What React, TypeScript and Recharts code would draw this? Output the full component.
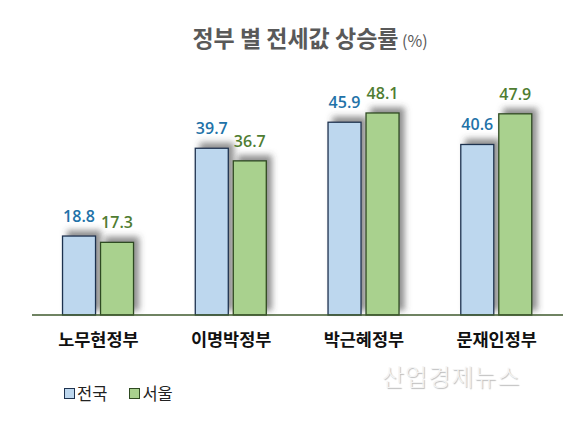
import React from 'react';
import { BarChart, Bar, XAxis, YAxis, LabelList } from 'recharts';

const categories = ['노무현정부', '이명박정부', '박근혜정부', '문재인정부'];
const nationwide = [18.8, 39.7, 45.9, 40.6];
const seoul = [17.3, 36.7, 48.1, 47.9];
const seriesNames = ['전국', '서울'];

const data = categories.map((c, i) => ({ name: c, nationwide: nationwide[i], seoul: seoul[i] }));

const KR = '"Noto Sans CJK KR", "Noto Sans", sans-serif';

const ShadowBar = (props: any) => {
  const { x, y, width, height, fill, stroke } = props;
  if (height <= 0) return null;
  return (
    <rect x={x} y={y} width={width} height={height} fill={fill} stroke={stroke} strokeWidth={1.3} filter="url(#barShadow)" />
  );
};

const Tick = (props: any) => {
  const { x, y, payload } = props;
  return (
    <text x={x} y={y + 23} textAnchor="middle" fontFamily={KR} fontWeight={700} fontSize={17.5} fill="#111">
      {payload.value}
    </text>
  );
};

export default function App() {
  return (
    <div style={{ position: 'absolute', left: 0, top: 0, width: 576, height: 429, background: '#fff', overflow: 'hidden' }}>
      <svg width={0} height={0} style={{ position: 'absolute' }}>
        <defs>
          <filter id="barShadow" x="-40%" y="-40%" width="180%" height="180%">
            <feDropShadow dx={5} dy={-5} stdDeviation={3.2} floodColor="#444" floodOpacity={0.6} />
          </filter>
        </defs>
      </svg>
      <div style={{ position: 'absolute', left: 0, top: 20, width: 620, textAlign: 'center', fontFamily: KR, color: '#595959' }}>
        <span style={{ fontSize: 23, fontWeight: 700 }}>정부 별 전세값 상승률</span>
        <span style={{ fontSize: 16, fontWeight: 400 }}> (%)</span>
      </div>
      <BarChart
        width={576}
        height={429}
        data={data}
        margin={{ top: 63, right: 13, bottom: 84, left: 32 }}
        barCategoryGap="23%"
        barGap={5}
      >
        <XAxis
          dataKey="name"
          tickLine={false}
          axisLine={{ stroke: '#3f5a2e', strokeWidth: 1.5 }}
          tick={<Tick />}
          height={30}
          interval={0}
        />
        <YAxis hide domain={[0, 60]} />
        <Bar dataKey="nationwide" name={seriesNames[0]} fill="#bdd7ee" stroke="#1f3350" shape={<ShadowBar />} isAnimationActive={false}>
          <LabelList dataKey="nationwide" position="top" offset={14} fill="#2272a8" fontSize={16} fontWeight={600} fontFamily='"Open Sans", sans-serif' />
        </Bar>
        <Bar dataKey="seoul" name={seriesNames[1]} fill="#a9d18e" stroke="#2f4a22" shape={<ShadowBar />} isAnimationActive={false}>
          <LabelList dataKey="seoul" position="top" offset={14} fill="#4f7d32" fontSize={16} fontWeight={600} fontFamily='"Open Sans", sans-serif' />
        </Bar>
      </BarChart>
      <div style={{ position: 'absolute', left: 64, top: 381, fontFamily: KR, fontSize: 16.5, color: '#222', display: 'flex', alignItems: 'center' }}>
        <span style={{ display: 'inline-block', width: 9, height: 9, background: '#bdd7ee', border: '1px solid #1f3350', marginRight: 2 }} />
        <span>{seriesNames[0]}</span>
        <span style={{ display: 'inline-block', width: 9, height: 9, background: '#a9d18e', border: '1px solid #2f4a22', marginLeft: 22, marginRight: 2 }} />
        <span>{seriesNames[1]}</span>
      </div>
      <div style={{ position: 'absolute', left: 382, top: 358, fontFamily: KR, fontSize: 24, fontWeight: 300, color: '#f4f4f4', letterSpacing: 1, textShadow: '1px 1px 1px #bbb' }}>
        산업경제뉴스
      </div>
    </div>
  );
}
